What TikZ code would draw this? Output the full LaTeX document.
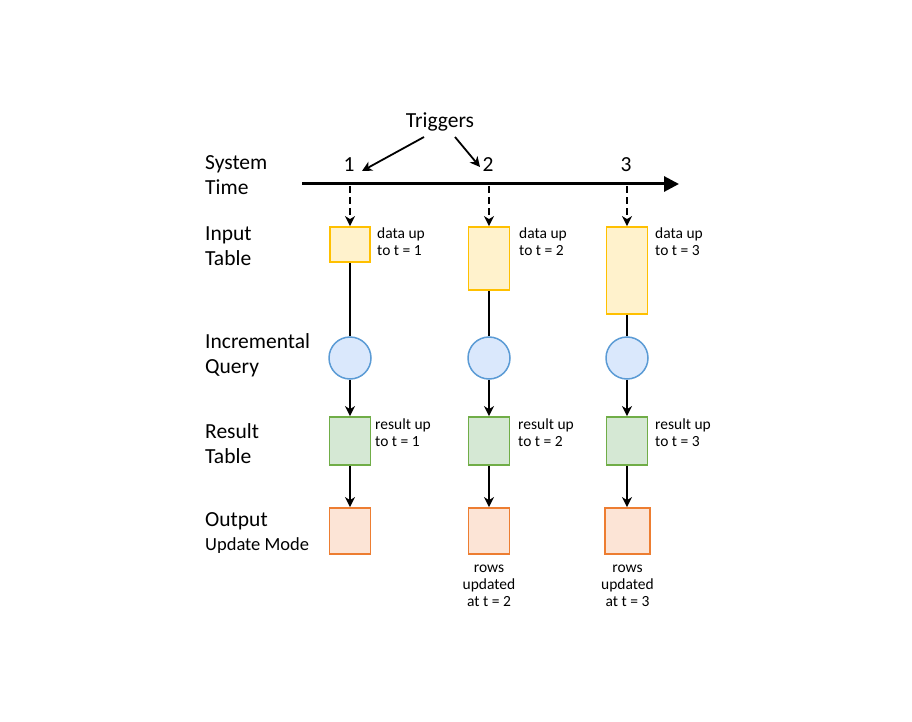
\documentclass[tikz,border=0pt]{standalone}
\usepackage{fontspec}
\setmainfont{Carlito}
\usetikzlibrary{arrows.meta}
\definecolor{inF}{HTML}{FFF2CC}\definecolor{inD}{HTML}{FFC000}
\definecolor{qF}{HTML}{DAE8FC}\definecolor{qD}{HTML}{5B9BD5}
\definecolor{rF}{HTML}{D5E8D4}\definecolor{rD}{HTML}{70AD47}
\definecolor{oF}{HTML}{FCE4D6}\definecolor{oD}{HTML}{ED7D31}
\begin{document}
\begin{tikzpicture}[x=1pt,y=-1pt,
  rowlab/.style={anchor=west,align=left,font=\fontsize{21.5}{25}\selectfont,inner sep=0pt},
  small/.style={font=\fontsize{15.5}{17}\selectfont,inner sep=0pt},
  inbox/.style={draw=inD,fill=inF,line width=1.8pt},
  qnode/.style={circle,draw=qD,fill=qF,line width=1.5pt,minimum size=42pt,inner sep=0pt},
  resbox/.style={draw=rD,fill=rF,line width=1.8pt},
  outbox/.style={draw=oD,fill=oF,line width=1.8pt},
  arr/.style={-{Stealth[length=10pt,width=10pt,inset=3pt]},line width=1.8pt},
  conn/.style={line width=1.8pt}]
\useasboundingbox (0,0) rectangle (912,722);
% row labels
\node[rowlab] (lsys) at (205,175) {System\\Time};
\node[rowlab] (lin) at (205,246) {Input\\Table};
\node[rowlab] (lq) at (205,355) {Incremental\\Query};
\node[rowlab] (lr) at (205,444) {Result\\Table};
\node[anchor=west,inner sep=0pt,font=\fontsize{21.5}{22}\selectfont] (lout) at (205,521) {Output};
\node[anchor=west,inner sep=0pt,font=\fontsize{18.5}{18}\selectfont] (lmode) at (205,546) {Update Mode};
% timeline
\coordinate (ts) at (302,184);
\coordinate (te) at (679,184);
\draw[line width=3pt,-{Triangle[length=15pt,width=15pt]}] (ts) -- (te);
\node[font=\fontsize{21.5}{22}\selectfont,inner sep=1pt] (n1) at (349,165) {1};
\node[font=\fontsize{21.5}{22}\selectfont,inner sep=1pt] (n2) at (488,165) {2};
\node[font=\fontsize{21.5}{22}\selectfont,inner sep=1pt] (n3) at (626,165) {3};
\node[font=\fontsize{21.5}{22}\selectfont,inner sep=2pt] (trig) at (440,122) {Triggers};
\coordinate (t1a) at (424,137); \coordinate (t1b) at (362,171);
\coordinate (t2a) at (455,137); \coordinate (t2b) at (480,167);
\draw[arr] (t1a) -- (t1b);
\draw[arr] (t2a) -- (t2b);
% input boxes
\node[inbox,minimum width=40pt,minimum height=35pt,inner sep=0pt] (in1) at (350,244.5) {};
\node[inbox,minimum width=41pt,minimum height=63pt,inner sep=0pt] (in2) at (489,258.5) {};
\node[inbox,minimum width=41pt,minimum height=87pt,inner sep=0pt] (in3) at (627,270.5) {};
\coordinate (d1) at (350,186); \coordinate (d2) at (489,186); \coordinate (d3) at (627,186);
\draw[arr,dash pattern=on 7pt off 4pt] (d1) -- (in1.north);
\draw[arr,dash pattern=on 7pt off 4pt] (d2) -- (in2.north);
\draw[arr,dash pattern=on 7pt off 4pt] (d3) -- (in3.north);
\node[small,anchor=north west,align=left] (din1) at (377,228) {data up\\to t = 1};
\node[small,anchor=north west,align=left] (din2) at (519,228) {data up\\to t = 2};
\node[small,anchor=north west,align=left] (din3) at (655,228) {data up\\to t = 3};
% queries
\node[qnode] (q1) at (350,358) {};
\node[qnode] (q2) at (489,358) {};
\node[qnode] (q3) at (627,358) {};
\draw[conn] (in1.south) -- (q1.north);
\draw[conn] (in2.south) -- (q2.north);
\draw[conn] (in3.south) -- (q3.north);
% results
\node[resbox,minimum width=41pt,minimum height=48pt,inner sep=0pt] (r1) at (350,441) {};
\node[resbox,minimum width=41pt,minimum height=48pt,inner sep=0pt] (r2) at (489,441) {};
\node[resbox,minimum width=41pt,minimum height=48pt,inner sep=0pt] (r3) at (627,441) {};
\draw[arr] (q1.south) -- (r1.north);
\draw[arr] (q2.south) -- (r2.north);
\draw[arr] (q3.south) -- (r3.north);
\node[small,anchor=north west,align=left] (dr1) at (375,419) {result up\\to t = 1};
\node[small,anchor=north west,align=left] (dr2) at (518,419) {result up\\to t = 2};
\node[small,anchor=north west,align=left] (dr3) at (655,419) {result up\\to t = 3};
% outputs
\node[outbox,minimum width=41pt,minimum height=46pt,inner sep=0pt] (o1) at (350,531) {};
\node[outbox,minimum width=41pt,minimum height=46pt,inner sep=0pt] (o2) at (489,531) {};
\node[outbox,minimum width=45pt,minimum height=46pt,inner sep=0pt] (o3) at (627.5,531) {};
\draw[arr] (r1.south) -- (o1.north);
\draw[arr] (r2.south) -- (o2.north);
\draw[arr] (r3.south) -- (r3.south |- o3.north);
\node[small,anchor=north,align=center] (do2) at (489,565) {rows\\updated\\at t = 2};
\node[small,anchor=north,align=center] (do3) at (627.5,565) {rows\\updated\\at t = 3};
\end{tikzpicture}
\end{document}
